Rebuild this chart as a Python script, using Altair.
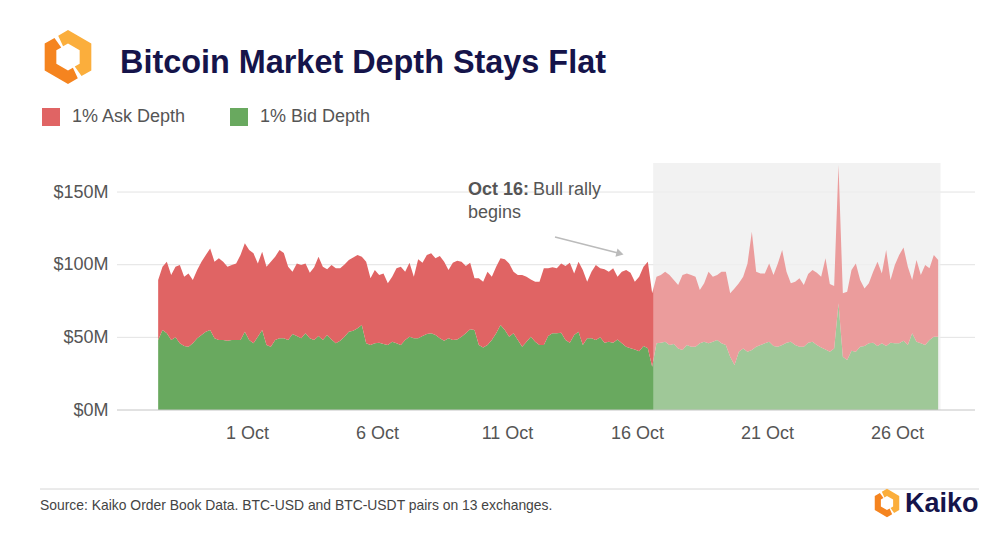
import altair as alt
import pandas as pd

# ---- values (USD millions), 4-hourly from 27 Sep 2023 14:00 ----
# top of the stacked area (= 1% bid depth + 1% ask depth)
stack_top = [
    89.4, 98.6, 102.1, 92.9, 98.6, 99.8, 91.7, 94.0, 89.4, 96.3, 102.1, 106.7, 111.2, 102.1, 104.4,
    102.1, 98.6, 99.8, 100.9, 106.7, 114.7, 110.1, 107.8, 100.9, 108.9, 98.6, 102.1, 105.5, 110.1, 108.0,
    98.6, 95.2, 100.9, 99.8, 100.9, 94.5, 98.2, 105.5, 98.6, 96.8, 99.8, 97.5, 97.5, 100.2, 103.2,
    105.0, 106.7, 105.5, 102.1, 90.6, 96.3, 92.9, 94.0, 87.2, 91.7, 97.5, 98.6, 95.2, 101.4, 91.7,
    103.7, 101.4, 106.7, 107.8, 104.4, 106.0, 102.1, 96.3, 101.4, 102.8, 102.1, 99.1, 101.4, 90.6, 90.6,
    88.3, 95.2, 91.7, 98.6, 104.4, 103.7, 100.9, 95.2, 92.9, 92.9, 91.7, 89.9, 88.3, 88.3, 97.5,
    97.5, 98.2, 97.5, 100.9, 99.1, 101.4, 94.0, 102.1, 96.3, 88.3, 95.2, 99.8, 97.5, 96.8, 95.2,
    97.5, 91.7, 95.2, 96.3, 94.5, 88.3, 91.7, 98.6, 102.1, 80.3, 91.7, 92.9, 95.2, 92.9, 89.4,
    86.0, 92.9, 94.0, 92.9, 91.7, 82.6, 87.2, 95.2, 91.7, 92.9, 95.2, 95.2, 80.3, 83.7, 87.2,
    91.7, 100.9, 122.7, 95.2, 94.0, 94.0, 100.9, 92.9, 100.9, 110.1, 95.2, 87.2, 88.3, 90.6, 86.0,
    93.6, 96.3, 94.5, 91.7, 104.4, 86.7, 85.3, 168.6, 80.3, 81.4, 96.3, 100.9, 89.4, 83.7, 87.2,
    95.2, 102.1, 94.0, 110.1, 89.4, 99.8, 106.7, 111.9, 98.6, 89.4, 103.2, 92.9, 99.8, 97.5, 106.7, 103.2,
]
bid_depth = [
    48.2, 55.0, 52.8, 48.2, 50.0, 45.9, 44.0, 43.6, 45.9, 49.3, 51.6, 53.9, 55.0, 49.3, 48.2,
    48.2, 47.7, 48.2, 48.2, 48.2, 53.9, 48.2, 45.9, 50.5, 55.0, 44.7, 43.6, 48.2, 49.3, 49.3,
    48.2, 52.3, 50.9, 49.3, 52.8, 49.3, 48.2, 50.9, 48.2, 51.6, 48.6, 45.9, 47.7, 50.5, 53.9,
    54.6, 56.2, 58.5, 45.9, 44.7, 45.9, 46.3, 45.4, 44.7, 47.0, 45.9, 44.7, 48.2, 50.5, 49.3,
    49.3, 50.9, 52.3, 52.8, 51.6, 49.3, 47.7, 49.3, 48.2, 48.6, 50.5, 52.8, 55.5, 55.0, 44.7,
    43.1, 44.7, 48.2, 52.8, 58.5, 55.0, 50.5, 52.8, 48.2, 43.6, 47.0, 50.5, 47.0, 44.7, 44.7,
    50.9, 52.8, 52.8, 53.2, 48.2, 46.3, 51.6, 53.9, 44.7, 49.3, 49.3, 48.2, 50.0, 46.3, 47.0,
    46.3, 48.6, 45.9, 43.5, 42.5, 41.7, 40.5, 44.0, 42.5, 29.8, 45.9, 46.3, 47.0, 44.7, 45.4,
    42.4, 41.3, 44.7, 43.6, 43.6, 45.9, 47.0, 45.9, 47.0, 48.2, 45.9, 44.7, 36.7, 31.0, 40.1,
    42.4, 40.1, 41.3, 43.6, 44.7, 45.9, 47.0, 44.0, 43.6, 44.7, 46.3, 47.0, 44.7, 43.6, 43.6,
    46.3, 47.0, 44.7, 43.1, 41.7, 40.1, 42.4, 73.4, 36.7, 34.4, 40.8, 40.1, 43.6, 44.0, 45.9,
    46.3, 44.0, 45.9, 44.0, 46.3, 45.9, 45.9, 47.7, 44.7, 52.8, 47.0, 45.9, 44.7, 48.2, 50.5, 50.5,
]
series_start = "2023-09-27 14:00"
series_step = "4h"
rally_window = ["2023-10-16T15:00:00", "2023-10-27T16:00:00"]
y_tick_values = [0, 50, 100, 150]
x_tick_days = [1, 6, 11, 16, 21, 26]
legend_labels = ["1% Ask Depth", "1% Bid Depth"]

ASK = "#e06464"
BID = "#69a95f"
FONT = "Liberation Sans"
GREY_TXT = "#555555"

times = pd.date_range(series_start, periods=len(bid_depth), freq=series_step)
df = pd.DataFrame({"time": times.strftime("%Y-%m-%dT%H:%M:%S"), "bid": bid_depth, "top": stack_top})
df["ask"] = (df["top"] - df["bid"]).round(1)

shade_df = pd.DataFrame({"start": [rally_window[0]], "end": [rally_window[1]], "lo": [0], "hi": [170]})
grid_df = pd.DataFrame({"v": y_tick_values[1:]})
base_df = pd.DataFrame({"v": [0]})

W, H = 858, 247
xscale = alt.Scale(domain=[alt.DateTime(year=2023, month=9, date=26), alt.DateTime(year=2023, month=10, date=29)])
yscale = alt.Scale(domain=[0, 170], nice=False, zero=True)
xaxis = alt.Axis(values=[alt.DateTime(year=2023, month=10, date=d) for d in x_tick_days], format="%-d %b",
                 labelFontSize=18, labelColor=GREY_TXT, labelPadding=14, ticks=False, domain=False,
                 grid=False, title=None, labelFont=FONT, labelOverlap=False)
yaxis = alt.Axis(values=y_tick_values, labelExpr="'$' + datum.value + 'M'", labelFontSize=18,
                 labelColor=GREY_TXT, labelPadding=9, ticks=False, domain=False, grid=False, title=None,
                 labelFont=FONT)

shade = alt.Chart(shade_df).mark_rect(color="#ebebeb").encode(
    x=alt.X("start:T", scale=xscale, axis=xaxis), x2="end:T",
    y=alt.Y("lo:Q", scale=yscale, axis=yaxis), y2="hi:Q")
grid = alt.Chart(grid_df).mark_rule(color="#e3e3e3", strokeWidth=1).encode(
    y=alt.Y("v:Q", scale=yscale, axis=yaxis))
bid_area = alt.Chart(df).mark_area(color=BID, interpolate="linear").encode(
    x=alt.X("time:T", scale=xscale, axis=xaxis),
    y=alt.Y("bid:Q", scale=yscale, axis=yaxis, stack=None))
ask_area = alt.Chart(df).mark_area(color=ASK, interpolate="linear").encode(
    x=alt.X("time:T", scale=xscale, axis=xaxis),
    y=alt.Y("top:Q", scale=yscale, axis=yaxis, stack=None), y2="bid:Q")
overlay = alt.Chart(shade_df).mark_rect(color="white", opacity=0.36).encode(
    x=alt.X("start:T", scale=xscale, axis=xaxis), x2="end:T",
    y=alt.Y("lo:Q", scale=yscale, axis=yaxis), y2="hi:Q")
base = alt.Chart(base_df).mark_rule(color="#c4c4c4", strokeWidth=1).encode(
    y=alt.Y("v:Q", scale=yscale, axis=yaxis))


def txt(s, x, y, size, color, weight="normal", align="left", baseline="middle"):
    return alt.Chart(pd.DataFrame({"t": [s]})).mark_text(
        align=align, baseline=baseline, fontSize=size, color=color, fontWeight=weight, font=FONT
    ).encode(x=alt.value(x), y=alt.value(y), text="t:N")


one = pd.DataFrame({"k": [0]})

LOGO_L = "M -0.502 -0.71 L -0.866 -0.5 L -0.866 0.5 L 0 1 L 0.364 0.79 L 0.182 0.395 L 0 0.5 L -0.433 0.25 L -0.433 -0.25 L -0.251 -0.355 Z"
LOGO_R = "M -0.364 -0.79 L 0 -1 L 0.866 -0.5 L 0.866 0.5 L 0.502 0.71 L 0.251 0.355 L 0.433 0.25 L 0.433 -0.25 L 0 -0.5 L -0.182 -0.395 Z"


def logo(cx, cy, size):
    a = alt.Chart(one).mark_point(shape=LOGO_L, filled=True, size=size, color="#f5841f", opacity=1, strokeWidth=0).encode(
        x=alt.value(cx), y=alt.value(cy))
    b = alt.Chart(one).mark_point(shape=LOGO_R, filled=True, size=size, color="#fbae3c", opacity=1, strokeWidth=0).encode(
        x=alt.value(cx), y=alt.value(cy))
    return [a, b]


legend_sq_ask = alt.Chart(one).mark_square(size=324, color=ASK, opacity=1).encode(x=alt.value(-66), y=alt.value(-46))
legend_sq_bid = alt.Chart(one).mark_square(size=324, color=BID, opacity=1).encode(x=alt.value(122), y=alt.value(-46))

arrow_line = alt.Chart(one).mark_rule(color="#bbbbbb", strokeWidth=1.5).encode(
    x=alt.value(438), y=alt.value(74), x2=alt.value(503), y2=alt.value(90.5))
arrow_head = alt.Chart(one).mark_point(shape="triangle-right", filled=True, size=70, angle=14,
                                       color="#bbbbbb", opacity=1).encode(x=alt.value(503), y=alt.value(90.5))

footer_rule = alt.Chart(one).mark_rule(color="#d6d6d6", strokeWidth=1).encode(
    x=alt.value(-77), x2=alt.value(862), y=alt.value(326))

layers = [shade, grid, bid_area, ask_area, overlay, base]
layers += logo(-49, -106, 2900)
layers += [
    txt("Bitcoin Market Depth Stays Flat", 3, -90, 32.4, "#15144a", weight="bold", baseline="alphabetic"),
    legend_sq_ask, txt(legend_labels[0], -45, -46, 18, GREY_TXT),
    legend_sq_bid, txt(legend_labels[1], 143, -46, 18, GREY_TXT),
    txt("Oct 16:", 351, 27, 18, GREY_TXT, weight="bold"),
    txt("Bull rally", 416, 27, 18, GREY_TXT),
    txt("begins", 351, 50, 18, GREY_TXT),
    arrow_line, arrow_head, footer_rule,
    txt("Source: Kaiko Order Book Data. BTC-USD and BTC-USDT pairs on 13 exchanges.", -77, 343, 13.9, "#444444"),
]
layers += logo(770, 340, 800)
layers += [txt("Kaiko", 788, 341, 27, "#15144a", weight="bold")]

chart = alt.layer(*layers).properties(
    width=W, height=H,
    autosize=alt.AutoSizeParams(type="none"),
    padding={"left": 109, "top": 155, "right": 14, "bottom": 135},
    background="white",
).configure(font=FONT).configure_view(stroke=None, strokeWidth=0)

chart.save("out.html", embed_options={"renderer": "svg", "actions": False})
